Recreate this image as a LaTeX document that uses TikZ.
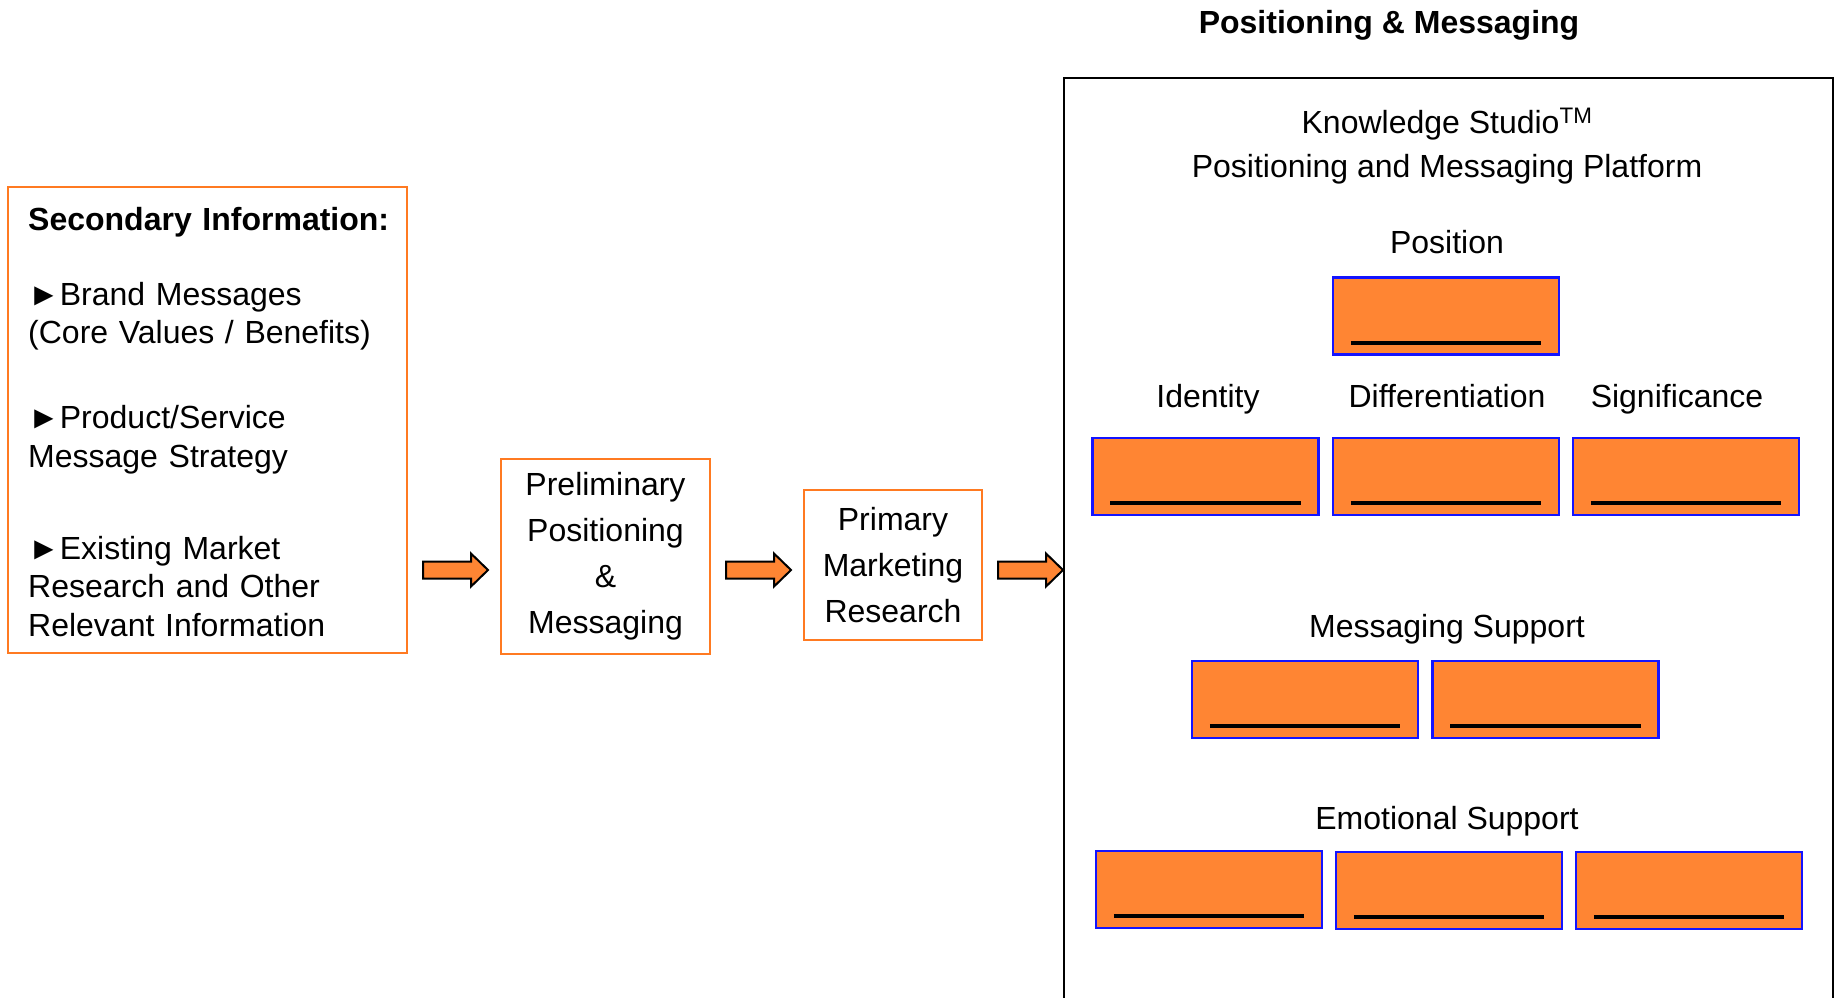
\documentclass[tikz,border=0pt]{standalone}
\usepackage{fontspec}
\setmainfont{Liberation Sans}
\usetikzlibrary{calc}
\definecolor{boxorange}{RGB}{255,122,33}
\definecolor{slotorange}{RGB}{255,133,51}
\definecolor{slotblue}{RGB}{20,20,255}
\tikzset{
  infobox/.style={draw=boxorange, line width=2pt, inner sep=0pt},
  stepbox/.style={infobox, align=center, font=\fontsize{32}{46}\selectfont},
  slot/.style={draw=slotblue, fill=slotorange, line width=2.5pt, minimum width=226pt, minimum height=77pt, inner sep=0pt},
  blank/.style={line width=4pt},
  heading/.style={anchor=base},
  arrowbody/.style={draw=black, fill=slotorange, line width=2pt, line join=miter}
}
\newcommand{\flowarrow}[1]{\draw[arrowbody] (#1) ++(-32.5,-8.5) -- ++(48,0) -- ++(0,-8) -- ++(17,16.5) -- ++(-17,16.5) -- ++(0,-8) -- ++(-48,0) -- cycle;}
\begin{document}
\begin{tikzpicture}[x=1pt,y=-1pt,font=\fontsize{32}{38.5}\selectfont]
\useasboundingbox (0,0) rectangle (1835,997);
\clip (0,0) rectangle (1835,997);

\node[heading] (title) at (1389,33) {\textbf{Positioning \& Messaging}};

\node[infobox, minimum width=399pt, minimum height=466pt] (secbox) at (207.5,420) {};
\node[anchor=base west, text width=375pt, align=left, inner sep=0pt] (secinfo) at (28,230)
  {\textbf{Secondary Information:}\\[36.5pt]
   ►Brand Messages\\ (Core Values / Benefits)\\[46.5pt]
   ►Product/Service\\ Message Strategy\\[53.5pt]
   ►Existing Market\\ Research and Other\\ Relevant Information};

\node[stepbox, minimum width=209pt, minimum height=195pt] (prelim) at (605.5,556.5) {Preliminary\\Positioning\\\&\\Messaging};
\node[stepbox, minimum width=178pt, minimum height=150pt] (primary) at (893,565) {Primary\\Marketing\\Research};

\node[draw, line width=2pt, minimum width=769pt, minimum height=960pt, anchor=north west, inner sep=0pt] (platform) at (1063,77) {};

\coordinate (a1) at (455.5,570);
\coordinate (a2) at (758.5,570);
\coordinate (a3) at (1030.5,570);
\flowarrow{a1}
\flowarrow{a2}
\flowarrow{a3}

\node[heading] (kstitle) at (1447,133) {Knowledge Studio\textsuperscript{TM}};
\node[heading] (kssub) at (1447,177) {Positioning and Messaging Platform};
\node[heading] (poslabel) at (1447,253) {Position};
\node[slot] (pos) at (1446,316) {};

\node[heading] (idlabel) at (1208,407) {Identity};
\node[heading] (difflabel) at (1447,407) {Differentiation};
\node[heading] (siglabel) at (1677,407) {Significance};
\node[slot] (id) at (1205.5,476.5) {};
\node[slot] (diff) at (1446,476.5) {};
\node[slot] (sig) at (1686,476.5) {};

\node[heading] (mslabel) at (1447,637) {Messaging Support};
\node[slot] (ms1) at (1305,699.5) {};
\node[slot] (ms2) at (1545.5,699.5) {};

\node[heading] (eslabel) at (1447,829) {Emotional Support};
\node[slot] (es1) at (1209,889.5) {};
\node[slot] (es2) at (1449,890.5) {};
\node[slot] (es3) at (1689,890.5) {};

\foreach \s in {pos,id,diff,sig,ms1,ms2,es1,es2,es3}
  \draw[blank] ($(\s.south west)+(19,-13)$) -- ($(\s.south east)+(-19,-13)$);

\end{tikzpicture}
\end{document}
